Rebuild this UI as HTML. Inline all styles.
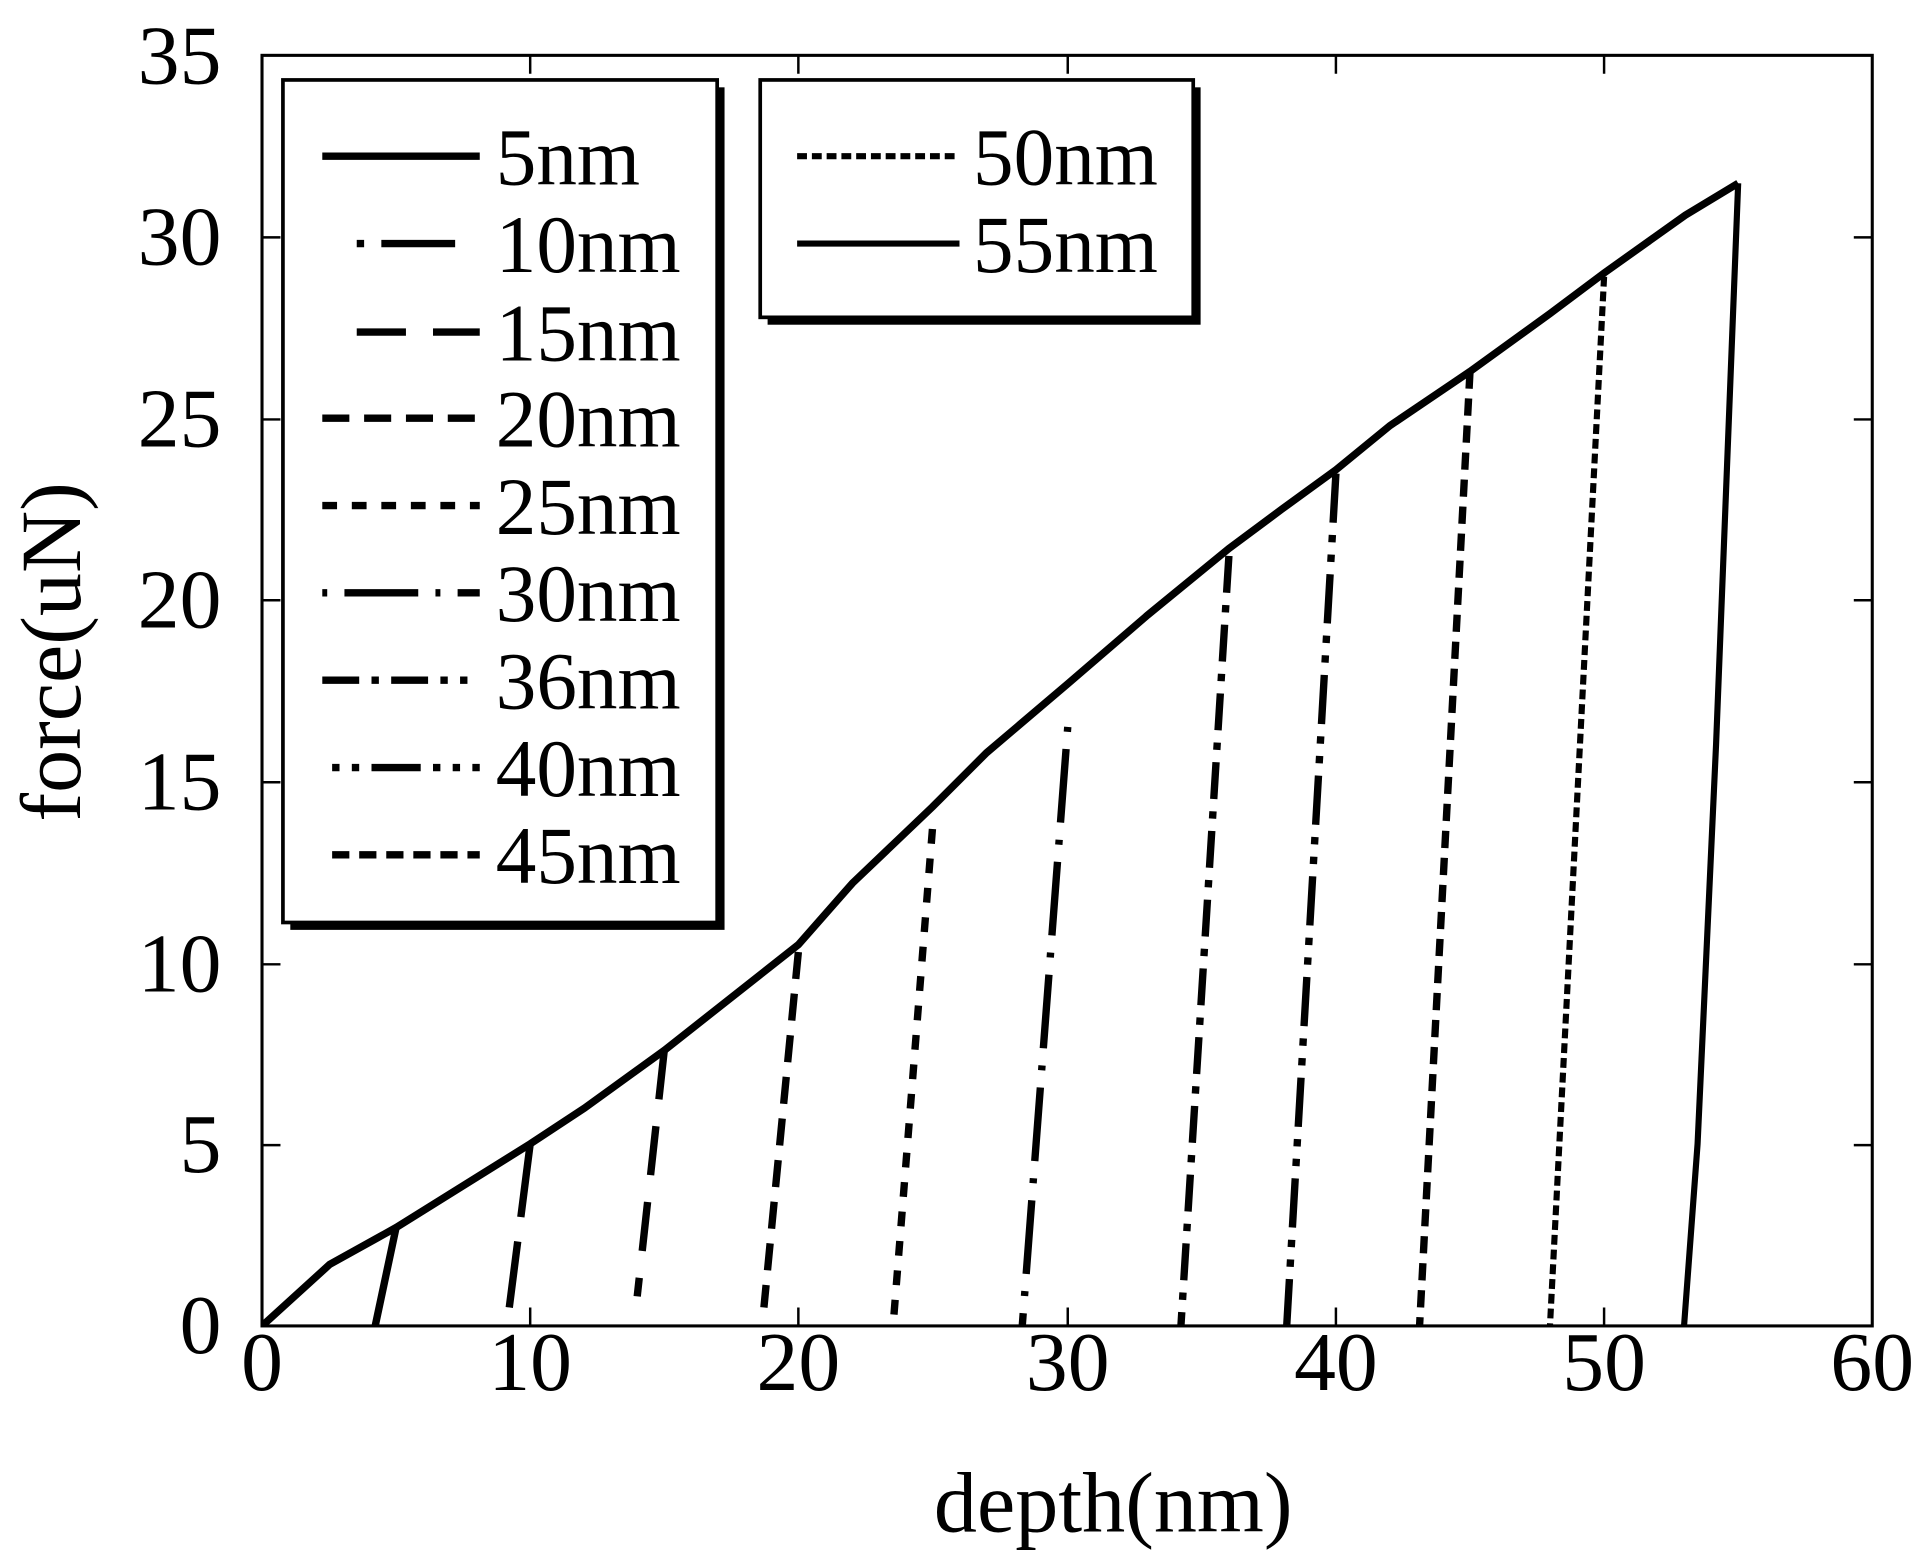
<!DOCTYPE html>
<html><head><style>body{margin:0;background:#fff}svg{display:block}</style></head><body>
<svg width="1919" height="1567" viewBox="0 0 1560 1274" preserveAspectRatio="none" font-family="Liberation Serif, serif">
<defs><clipPath id="c"><rect x="213" y="45" width="1309" height="1033"/></clipPath></defs>
<rect x="213" y="45" width="1309" height="1033" fill="none" stroke="#000" stroke-width="2.5"/>
<g stroke="#000" stroke-width="2">
<path d="M213 931h15M213 784h15M213 636h15M213 488h15M213 341h15M213 193h15M1522 931h-15M1522 784h-15M1522 636h-15M1522 488h-15M1522 341h-15M1522 193h-15M431 1078v-15M649 1078v-15M868 1078v-15M1086 1078v-15M1304 1078v-15M431 45v15M649 45v15M868 45v15M1086 45v15M1304 45v15"/>
</g>
<g font-size="68" text-anchor="end">
<text x="180" y="1100">0</text><text x="180" y="953">5</text><text x="180" y="806">10</text><text x="180" y="658">15</text><text x="180" y="510">20</text><text x="180" y="363">25</text><text x="180" y="215">30</text><text x="180" y="68">35</text>
</g>
<g font-size="68" text-anchor="middle">
<text x="213" y="1130">0</text><text x="431" y="1130">10</text><text x="649" y="1130">20</text><text x="868" y="1130">30</text><text x="1086" y="1130">40</text><text x="1304" y="1130">50</text><text x="1522" y="1130">60</text>
<text x="905" y="1245" font-size="70">depth(nm)</text>
<text transform="translate(65,530) rotate(-90)" font-size="70">force(uN)</text>
</g>
<g clip-path="url(#c)" fill="none" stroke="#000" stroke-width="6">
<polyline points="213,1078 268,1028 322,998 431,930 475,901 540,854 649,768 693,718 758,656 802,612 868,556 933,500 999,446 1042,414 1086,382 1130,346 1195,302 1260,255 1304,222 1370,175 1413,149"/>
<path d="M322,998 L305,1078"/>
<path d="M431,930 L414,1063" stroke-dasharray="60,20"/>
<path d="M540,854 L518,1054" stroke-dasharray="40,22"/>
<path d="M649,774 L621,1063" stroke-dasharray="22,12"/>
<path d="M758,674 L726,1078" stroke-dasharray="12,12"/>
<path d="M868,591 L831,1078" stroke-dasharray="4,14,60,14"/>
<path d="M999,452 L960,1078" stroke-dasharray="30,10,6,10"/>
<path d="M1086,385 L1046,1078" stroke-dasharray="40,10,6,10,6,10"/>
<path d="M1195,302 L1154,1078" stroke-dasharray="14,8"/>
<path d="M1304,225 L1260,1078" stroke-dasharray="8,4" stroke-width="5"/>
<path d="M1413,149 L1395,606 L1380,930 L1369,1078" stroke-width="5"/>
</g>
<rect x="236" y="71" width="353" height="685" fill="#000"/>
<rect x="230" y="65" width="353" height="685" fill="#fff" stroke="#000" stroke-width="3"/>
<rect x="624" y="71" width="352" height="193" fill="#000"/>
<rect x="618" y="65" width="352" height="193" fill="#fff" stroke="#000" stroke-width="3"/>
<g stroke="#000" stroke-width="6" fill="none">
<path d="M262 127H390"/>
<path d="M290 198H390" stroke-dasharray="6,14,60,20"/>
<path d="M290 270H390" stroke-dasharray="40,22"/>
<path d="M262 340H390" stroke-dasharray="22,12"/>
<path d="M262 411H390" stroke-dasharray="12,12"/>
<path d="M262 482H390" stroke-dasharray="4,14,60,14"/>
<path d="M262 553H380" stroke-dasharray="30,10,6,10"/>
<path d="M270 624H390" stroke-dasharray="6,10,6,10,40,10"/>
<path d="M270 695H390" stroke-dasharray="14,8"/>
<path d="M648 127H780" stroke-dasharray="8,4" stroke-width="5"/>
<path d="M648 198H780" stroke-width="5"/>
</g>
<g font-size="66">
<text x="403" y="150">5nm</text><text x="403" y="221">10nm</text><text x="403" y="293">15nm</text><text x="403" y="363">20nm</text><text x="403" y="434">25nm</text><text x="403" y="505">30nm</text><text x="403" y="576">36nm</text><text x="403" y="647">40nm</text><text x="403" y="718">45nm</text>
<text x="791" y="150">50nm</text><text x="791" y="221">55nm</text>
</g>
</svg>
</body></html>
